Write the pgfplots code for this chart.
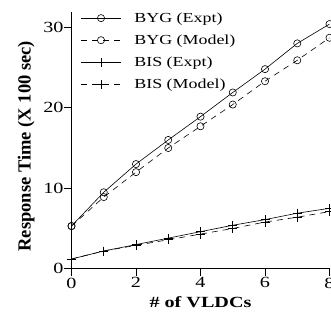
\documentclass[border=0pt]{standalone}
\usepackage{fontspec}
\setmainfont{Liberation Serif}
\newfontfamily\wide[FakeStretch=1.3]{Liberation Serif}
\usepackage{pgfplots}
\pgfplotsset{compat=1.18}
\pgfplotsset{mylegend/.style={legend image code/.code={\draw[mark repeat=2, mark phase=2, ##1] plot coordinates {(0pt,0pt) (20pt,0pt) (40pt,0pt)};}}}
\newcommand{\legtxt}[1]{\hspace*{11pt}\scalebox{1.3}[1]{\fontsize{13.8}{13.8}\selectfont #1}}
\begin{document}
\begin{tikzpicture}
\begin{axis}[
  at={(0,0)}, anchor=south west,
  scale only axis, width=258pt, height=257pt,
  xmin=0, xmax=8, ymin=0, ymax=31.94,
  axis lines=left, axis line style={-, line width=0.8pt},
  xtick={0,2,4,6,8}, ytick={0,10,20,30},
  tick align=outside, major tick length=7.5pt,
  tick style={line width=0.8pt, black},
  /pgf/number format/assume math mode=true,
  ticklabel style={font=\wide\fontsize{15.5}{15.5}\selectfont},
  yticklabel style={xshift=3pt},
  xticklabel style={yshift=2pt},
  xlabel={\textbf{\# of VLDCs}}, ylabel={\textbf{Response Time (X 100 sec)}},
  xlabel style={font=\wide\fontsize{15.5}{15.5}\selectfont, yshift=-2pt},
  ylabel style={font=\fontsize{18.5}{18.5}\selectfont, xshift=-6pt, yshift=2pt},
  clip=false,
  legend style={draw=none, fill=none, at={(0.035,1.005)}, anchor=north west,
    row sep=7pt, inner sep=0pt},
  legend cell align=left,
]
\addplot[black, line width=0.6pt, mark=o, mark size=3.6pt, mark options={solid, fill=white}, mylegend] coordinates {
(0,5.3) (1,9.5) (2,13.0) (3,16.0) (4,18.9) (5,21.9) (6,24.8) (7,28.0) (8,30.4)};
\addlegendentry{\legtxt{BYG (Expt)}}
\addplot[black, line width=0.6pt, dash pattern=on 6pt off 5pt, mark=o, mark size=3.6pt, mark options={solid, fill=white}, mylegend] coordinates {
(0,5.3) (1,8.9) (2,12.0) (3,15.0) (4,17.7) (5,20.4) (6,23.3) (7,25.9) (8,28.7)};
\addlegendentry{\legtxt{BYG (Model)}}
\addplot[black, line width=0.6pt, mark=+, mark size=4.5pt, mark options={solid}, mylegend] coordinates {
(0,1.2) (1,2.2) (2,3.0) (3,3.8) (4,4.6) (5,5.4) (6,6.1) (7,6.9) (8,7.5)};
\addlegendentry{\legtxt{BIS (Expt)}}
\addplot[black, line width=0.6pt, dash pattern=on 6pt off 5pt, mark=+, mark size=4.5pt, mark options={solid}, mylegend] coordinates {
(0,1.2) (1,2.2) (2,2.9) (3,3.6) (4,4.3) (5,5.0) (6,5.8) (7,6.4) (8,7.1)};
\addlegendentry{\legtxt{BIS (Model)}}
\end{axis}
\pgfresetboundingbox
\path[use as bounding box] (-71.5pt,-55.3pt) rectangle (259.5pt,268.7pt);
\end{tikzpicture}
\end{document}
